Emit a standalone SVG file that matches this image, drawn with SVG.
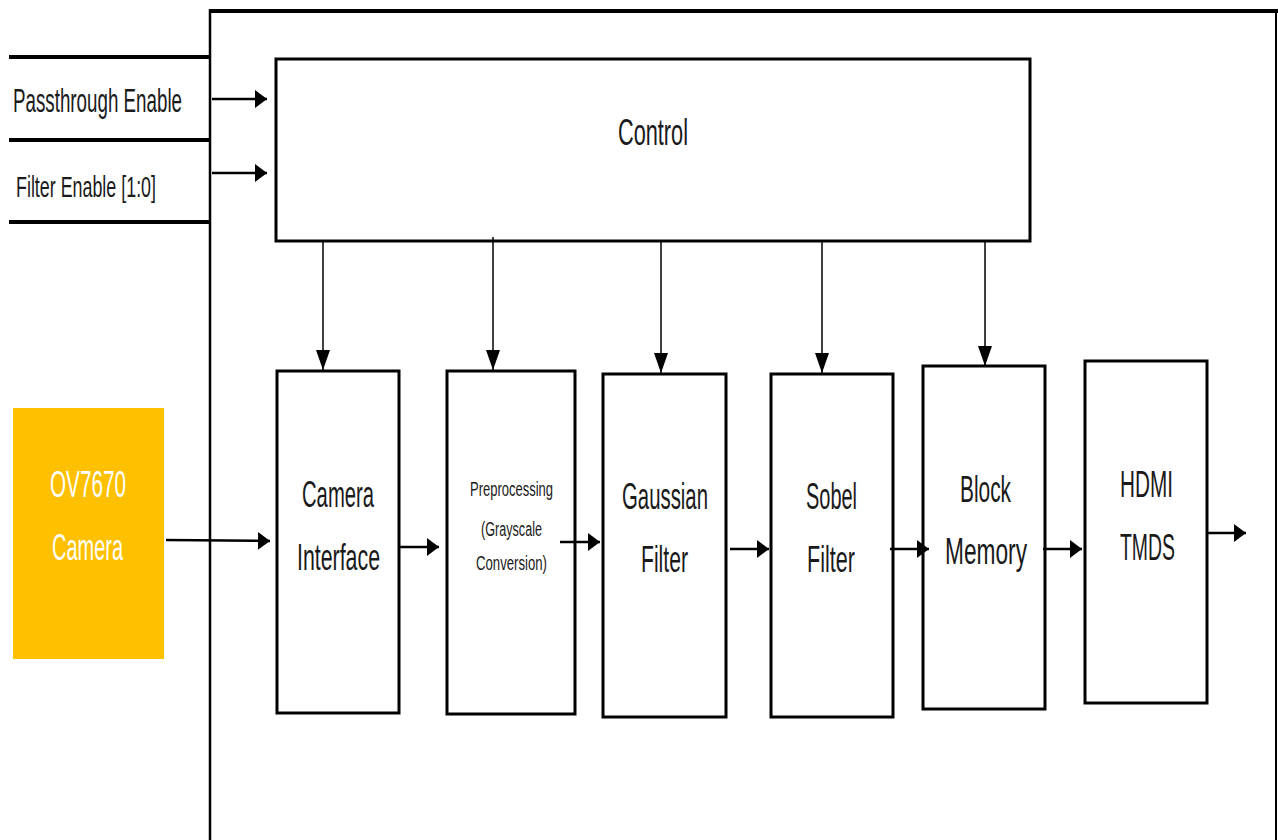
<svg xmlns="http://www.w3.org/2000/svg" width="1278" height="840" viewBox="0 0 1278 840">
<style>
.box{fill:#fff;stroke:#000;stroke-width:3}
.frame{fill:none;stroke:#000}
.t{font-family:"Liberation Sans",Arial,sans-serif;fill:#1a1a1a;text-anchor:start}
.w{fill:#fff}
.h{stroke:#000;stroke-width:2.5;fill:none;marker-end:url(#ah)}
.v{stroke:#000;stroke-width:1.5;fill:none;marker-end:url(#av)}
</style>
<defs>
<marker id="ah" markerUnits="userSpaceOnUse" markerWidth="14" markerHeight="20" viewBox="0 0 14 20" refX="12" refY="10" orient="auto">
<path d="M0,1 L12,10 L0,19 Z" fill="#000"/>
</marker>
<marker id="av" markerUnits="userSpaceOnUse" markerWidth="22" markerHeight="16" viewBox="0 0 22 16" refX="20" refY="8" orient="auto">
<path d="M0,1 L20,8 L0,15 Z" fill="#000"/>
</marker>
</defs>
<rect width="1278" height="840" fill="#fff"/>

<g id="frame">
<line class="frame" x1="210" y1="11" x2="1278" y2="11" stroke-width="4"/>
<line class="frame" x1="210" y1="9" x2="210" y2="840" stroke-width="2.5"/>
<line class="frame" x1="1276" y1="9" x2="1276" y2="840" stroke-width="2"/>
<line class="frame" x1="9" y1="57" x2="211" y2="57" stroke-width="4"/>
<line class="frame" x1="9" y1="140" x2="211" y2="140" stroke-width="4"/>
<line class="frame" x1="9" y1="222" x2="211" y2="222" stroke-width="4"/>
</g>

<g id="in-passthrough">
<text class="t" x="13" y="112" font-size="34" textLength="169" lengthAdjust="spacingAndGlyphs">Passthrough Enable</text>
</g>
<g id="in-filter">
<text class="t" x="16" y="197" font-size="29" textLength="140" lengthAdjust="spacingAndGlyphs">Filter Enable [1:0]</text>
</g>

<g id="control">
<rect class="box" x="276" y="59" width="754" height="182"/>
<text class="t" x="618" y="145" font-size="37" textLength="70" lengthAdjust="spacingAndGlyphs">Control</text>
</g>

<g id="camera">
<rect x="13" y="408" width="151" height="251" fill="#FFC000"/>
<text class="t w" x="50" y="497" font-size="37" textLength="76" lengthAdjust="spacingAndGlyphs">OV7670</text>
<text class="t w" x="52" y="560" font-size="37" textLength="71" lengthAdjust="spacingAndGlyphs">Camera</text>
</g>

<g id="camera-interface">
<rect class="box" x="277" y="371" width="122" height="342"/>
<text class="t" x="302" y="507" font-size="36" textLength="72" lengthAdjust="spacingAndGlyphs">Camera</text>
<text class="t" x="297" y="570" font-size="36" textLength="83" lengthAdjust="spacingAndGlyphs">Interface</text>
</g>

<g id="preprocessing">
<rect class="box" x="447" y="371" width="128" height="343"/>
<text class="t" x="470" y="496" font-size="20" textLength="83" lengthAdjust="spacingAndGlyphs">Preprocessing</text>
<text class="t" x="481" y="536" font-size="20" textLength="61" lengthAdjust="spacingAndGlyphs">(Grayscale</text>
<text class="t" x="476" y="570" font-size="20" textLength="71" lengthAdjust="spacingAndGlyphs">Conversion)</text>
</g>

<g id="gaussian">
<rect class="box" x="603" y="374" width="123" height="343"/>
<text class="t" x="622" y="509" font-size="36" textLength="86" lengthAdjust="spacingAndGlyphs">Gaussian</text>
<text class="t" x="641" y="572" font-size="36" textLength="47" lengthAdjust="spacingAndGlyphs">Filter</text>
</g>

<g id="sobel">
<rect class="box" x="771" y="374" width="122" height="343"/>
<text class="t" x="806" y="509" font-size="36" textLength="51" lengthAdjust="spacingAndGlyphs">Sobel</text>
<text class="t" x="807" y="572" font-size="36" textLength="48" lengthAdjust="spacingAndGlyphs">Filter</text>
</g>

<g id="block-memory">
<rect class="box" x="923" y="366" width="122" height="343"/>
<text class="t" x="960" y="502" font-size="36" textLength="51" lengthAdjust="spacingAndGlyphs">Block</text>
<text class="t" x="945" y="564" font-size="36" textLength="82" lengthAdjust="spacingAndGlyphs">Memory</text>
</g>

<g id="hdmi">
<rect class="box" x="1085" y="361" width="122" height="342"/>
<text class="t" x="1120" y="497" font-size="36" textLength="53" lengthAdjust="spacingAndGlyphs">HDMI</text>
<text class="t" x="1120" y="560" font-size="36" textLength="55" lengthAdjust="spacingAndGlyphs">TMDS</text>
</g>

<g id="connectors">
<line class="h" x1="212" y1="99" x2="267" y2="99"/>
<line class="h" x1="212" y1="173" x2="267" y2="173"/>
<line class="v" x1="323" y1="242" x2="323" y2="370"/>
<line class="v" x1="493" y1="237" x2="493" y2="370"/>
<line class="v" x1="661" y1="242" x2="661" y2="373"/>
<line class="v" x1="822" y1="242" x2="822" y2="373"/>
<line class="v" x1="985" y1="242" x2="985" y2="366"/>
<line class="h" x1="166" y1="540" x2="270" y2="541"/>
<line class="h" x1="399" y1="547" x2="439" y2="547"/>
<line class="h" x1="560" y1="542" x2="600" y2="542"/>
<line class="h" x1="730" y1="549" x2="769" y2="549"/>
<line class="h" x1="890" y1="549" x2="929" y2="549"/>
<line class="h" x1="1043" y1="549" x2="1082" y2="549"/>
<line class="h" x1="1208" y1="533" x2="1246" y2="533"/>
</g>
</svg>
